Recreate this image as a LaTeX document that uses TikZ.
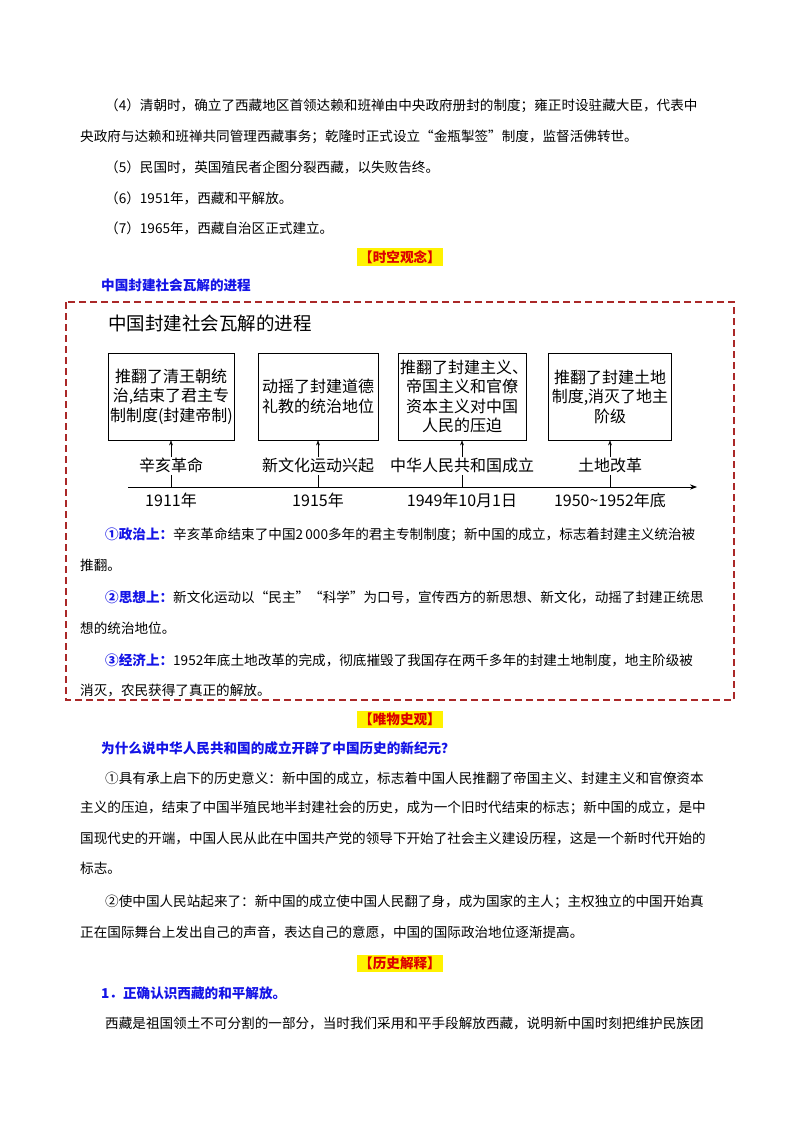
\documentclass[tikz,border=0pt]{standalone}
\usepackage{fontspec}
\setmainfont{Noto Sans CJK SC}
\newfontfamily\cjk{Noto Sans CJK SC}
\usetikzlibrary{arrows.meta}
\definecolor{hblue}{RGB}{20,20,230}
\definecolor{dred}{RGB}{170,40,40}
\definecolor{hred}{RGB}{220,0,0}
\tikzset{
 body/.style={anchor=west,inner sep=0pt,font=\fontsize{13.6}{13.6}\selectfont},
 head/.style={anchor=center,inner sep=2pt,fill=yellow,text=hred,font=\fontsize{13.6}{13.6}\selectfont\bfseries},
 bhead/.style={anchor=west,inner sep=0pt,text=hblue,font=\fontsize{13.6}{13.6}\selectfont\bfseries},
 evbox/.style={draw,thick,minimum height=87pt,align=center,inner sep=2pt,font=\fontsize{16}{19.5}\selectfont},
 evlab/.style={inner sep=0pt,font=\fontsize{16}{16}\selectfont},
 yr/.style={inner sep=0pt,font=\fontsize{16}{16}\selectfont}
}
\begin{document}
\begin{tikzpicture}[x=1pt,y=-1pt]
\useasboundingbox (0,0) rectangle (800,1132);
\node[body] (l1) at (105,106) {（4）清朝时，确立了西藏地区首领达赖和班禅由中央政府册封的制度；雍正时设驻藏大臣，代表中};
\node[body] (l2) at (80,137) {央政府与达赖和班禅共同管理西藏事务；乾隆时正式设立“金瓶掣签”制度，监督活佛转世。};
\node[body] (l3) at (105,167) {（5）民国时，英国殖民者企图分裂西藏，以失败告终。};
\node[body] (l4) at (105,198) {（6）1951年，西藏和平解放。};
\node[body] (l5) at (105,228) {（7）1965年，西藏自治区正式建立。};
\node[head] (h1) at (400,257) {【时空观念】};
\node[bhead] (t1) at (101,285) {中国封建社会瓦解的进程};
\draw[dred,line width=1.6pt,dash pattern=on 7pt off 4pt] (66,302) rectangle (734,700);
\node[anchor=west,inner sep=0pt,font=\fontsize{18.5}{18.5}\selectfont] (tt) at (108,323) {中国封建社会瓦解的进程};
\node[evbox,text width=122pt] (b1) at (171,396.5) {推翻了清王朝统\\治,结束了君主专\\制制度(封建帝制)};
\node[evbox,text width=116pt] (b2) at (318,396.5) {动摇了封建道德\\礼教的统治地位};
\node[evbox,text width=124pt] (b3) at (462,396.5) {推翻了封建主义、\\帝国主义和官僚\\资本主义对中国\\人民的压迫};
\node[evbox,text width=119pt] (b4) at (610,396.5) {推翻了封建土地\\制度,消灭了地主\\阶级};
\node[evlab] (e1) at (171,465) {辛亥革命};
\node[evlab] (e2) at (318,465) {新文化运动兴起};
\node[evlab] (e3) at (462,465) {中华人民共和国成立};
\node[evlab] (e4) at (610,465) {土地改革};
\coordinate (a0) at (128,487); \coordinate (a1) at (697,487);
\draw[thick,-{Stealth[length=7pt]}] (a0) -- (a1);
\foreach \i/\x in {1/171,2/318,3/462,4/610}{
 \draw[-{Stealth[length=5pt]}] (e\i.north) -- (b\i.south);
 \draw (\x,487) -- (\x,475);
}
\node[yr] (y1) at (171,500) {1911年};
\node[yr] (y2) at (318,500) {1915年};
\node[yr] (y3) at (462,500) {1949年10月1日};
\node[yr] (y4) at (610,500) {1950\textasciitilde1952年底};
\node[body] (p1) at (105,535) {{\color{hblue}\bfseries ①政治上：}辛亥革命结束了中国2\,000多年的君主专制制度；新中国的成立，标志着封建主义统治被};
\node[body] (p2) at (80,565) {推翻。};
\node[body] (p3) at (105,597) {{\color{hblue}\bfseries ②思想上：}新文化运动以“民主”“科学”为口号，宣传西方的新思想、新文化，动摇了封建正统思};
\node[body] (p4) at (80,628) {想的统治地位。};
\node[body] (p5) at (105,660) {{\color{hblue}\bfseries ③经济上：}1952年底土地改革的完成，彻底摧毁了我国存在两千多年的封建土地制度，地主阶级被};
\node[body] (p6) at (80,690) {消灭，农民获得了真正的解放。};
\node[head] (h2) at (400,719) {【唯物史观】};
\node[bhead] (t2) at (101,748) {为什么说中华人民共和国的成立开辟了中国历史的新纪元？};
\node[body] (q1) at (105,778) {①具有承上启下的历史意义：新中国的成立，标志着中国人民推翻了帝国主义、封建主义和官僚资本};
\node[body] (q2) at (80,808) {主义的压迫，结束了中国半殖民地半封建社会的历史，成为一个旧时代结束的标志；新中国的成立，是中};
\node[body] (q3) at (80,838) {国现代史的开端，中国人民从此在中国共产党的领导下开始了社会主义建设历程，这是一个新时代开始的};
\node[body] (q4) at (80,868) {标志。};
\node[body] (q5) at (105,902) {②使中国人民站起来了：新中国的成立使中国人民翻了身，成为国家的主人；主权独立的中国开始真};
\node[body] (q6) at (80,932) {正在国际舞台上发出自己的声音，表达自己的意愿，中国的国际政治地位逐渐提高。};
\node[head] (h3) at (400,963) {【历史解释】};
\node[bhead] (t3) at (101,993) {1．正确认识西藏的和平解放。};
\node[body] (r1) at (105,1023) {西藏是祖国领土不可分割的一部分，当时我们采用和平手段解放西藏，说明新中国时刻把维护民族团};
\end{tikzpicture}
\end{document}
